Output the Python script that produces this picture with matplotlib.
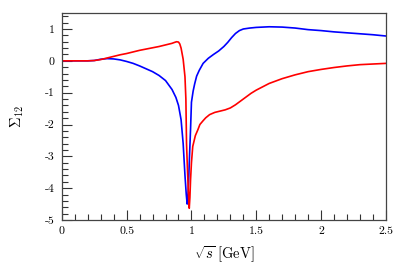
import matplotlib
matplotlib.use("Agg")
import matplotlib.pyplot as plt
from matplotlib.ticker import MultipleLocator

plt.rcParams['font.family'] = 'serif'
plt.rcParams['font.serif'] = ['cmr10', 'DejaVu Serif']
plt.rcParams['mathtext.fontset'] = 'cm'
plt.rcParams['axes.unicode_minus'] = False
plt.rcParams['axes.formatter.use_mathtext'] = False

# blue curve
blue_x = [0, 0.1, 0.2, 0.25, 0.3, 0.35, 0.4, 0.45, 0.5, 0.55, 0.6, 0.65, 0.7, 0.75,
          0.8, 0.85, 0.88, 0.9, 0.92, 0.936, 0.95, 0.96, 0.967, 0.972, 0.978, 0.985,
          0.993, 1.0, 1.013, 1.025, 1.04, 1.06, 1.09, 1.13, 1.17, 1.21, 1.25, 1.28,
          1.31, 1.34, 1.37, 1.40, 1.45, 1.5, 1.6, 1.7, 1.8, 1.9, 2.0, 2.1, 2.2, 2.3, 2.4, 2.5]
blue_y = [0, 0, 0, 0.01, 0.05, 0.07, 0.06, 0.03, -0.02, -0.08, -0.16, -0.25, -0.34, -0.46,
          -0.62, -0.9, -1.15, -1.4, -1.85, -2.6, -3.6, -4.2, -4.5, -4.3, -3.8, -3.0,
          -2.15, -1.3, -0.95, -0.72, -0.48, -0.3, -0.08, 0.08, 0.2, 0.31, 0.45, 0.58,
          0.73, 0.86, 0.95, 1.0, 1.03, 1.05, 1.07, 1.06, 1.03, 0.98, 0.95, 0.91, 0.88, 0.85, 0.82, 0.78]

# red curve
red_x = [0, 0.1, 0.2, 0.25, 0.3, 0.35, 0.4, 0.45, 0.5, 0.55, 0.6, 0.65, 0.7, 0.75,
         0.8, 0.85, 0.87, 0.885, 0.9, 0.91, 0.92, 0.936, 0.95, 0.957, 0.962, 0.97, 0.976, 0.983,
         0.988, 0.993, 1.0, 1.01, 1.03, 1.05, 1.065, 1.09, 1.11, 1.14, 1.18, 1.22,
         1.26, 1.30, 1.34, 1.38, 1.42, 1.46, 1.5, 1.6, 1.7, 1.8, 1.9, 2.0, 2.1, 2.2, 2.3, 2.4, 2.5]
red_y = [0, 0, 0, 0.01, 0.04, 0.09, 0.14, 0.19, 0.23, 0.28, 0.33, 0.37, 0.41, 0.45,
         0.5, 0.55, 0.58, 0.6, 0.59, 0.53, 0.4, 0.05, -0.5, -1.2, -2.6, -3.5, -4.1, -4.63,
         -4.3, -3.74, -3.2, -2.69, -2.35, -2.16, -2.0, -1.88, -1.79, -1.69, -1.62, -1.58,
         -1.54, -1.48, -1.38, -1.26, -1.14, -1.02, -0.92, -0.71, -0.56, -0.44, -0.34, -0.27, -0.21, -0.16, -0.12, -0.1, -0.08]

x_ticks = [0, 0.5, 1, 1.5, 2, 2.5]
x_tick_labels = ["0", "0.5", "1", "1.5", "2", "2.5"]
y_ticks = [-5, -4, -3, -2, -1, 0, 1]
y_tick_labels = ["-5", "-4", "-3", "-2", "-1", "0", "1"]

fig = plt.figure(figsize=(4.07, 2.67), dpi=100)
ax = fig.add_axes([0.152, 0.176, 0.796, 0.775])

ax.plot(blue_x, blue_y, color='#0000ff', lw=1.2)
ax.plot(red_x, red_y, color='#ff0000', lw=1.2)

ax.set_xlim(0, 2.5)
ax.set_ylim(-5, 1.5)
ax.set_xticks(x_ticks)
ax.set_xticklabels(x_tick_labels)
ax.set_yticks(y_ticks)
ax.set_yticklabels(y_tick_labels)
ax.xaxis.set_minor_locator(MultipleLocator(0.1))
ax.yaxis.set_minor_locator(MultipleLocator(0.2))
ax.tick_params(which='both', direction='in', top=False, right=False,
               labelsize=8.5, color='#333333', pad=5)
ax.tick_params(which='major', length=7, width=0.8)
ax.tick_params(which='minor', length=4, width=0.8)
for s in ax.spines.values():
    s.set_color('#444444')
    s.set_linewidth(0.9)

ax.set_xlabel(r'$\sqrt{s}\;[\mathrm{GeV}]$', fontsize=10.5, labelpad=6)
ax.set_ylabel(r'$\Sigma_{12}$', fontsize=10.5, labelpad=14)

fig.savefig('out.png', dpi=100)
